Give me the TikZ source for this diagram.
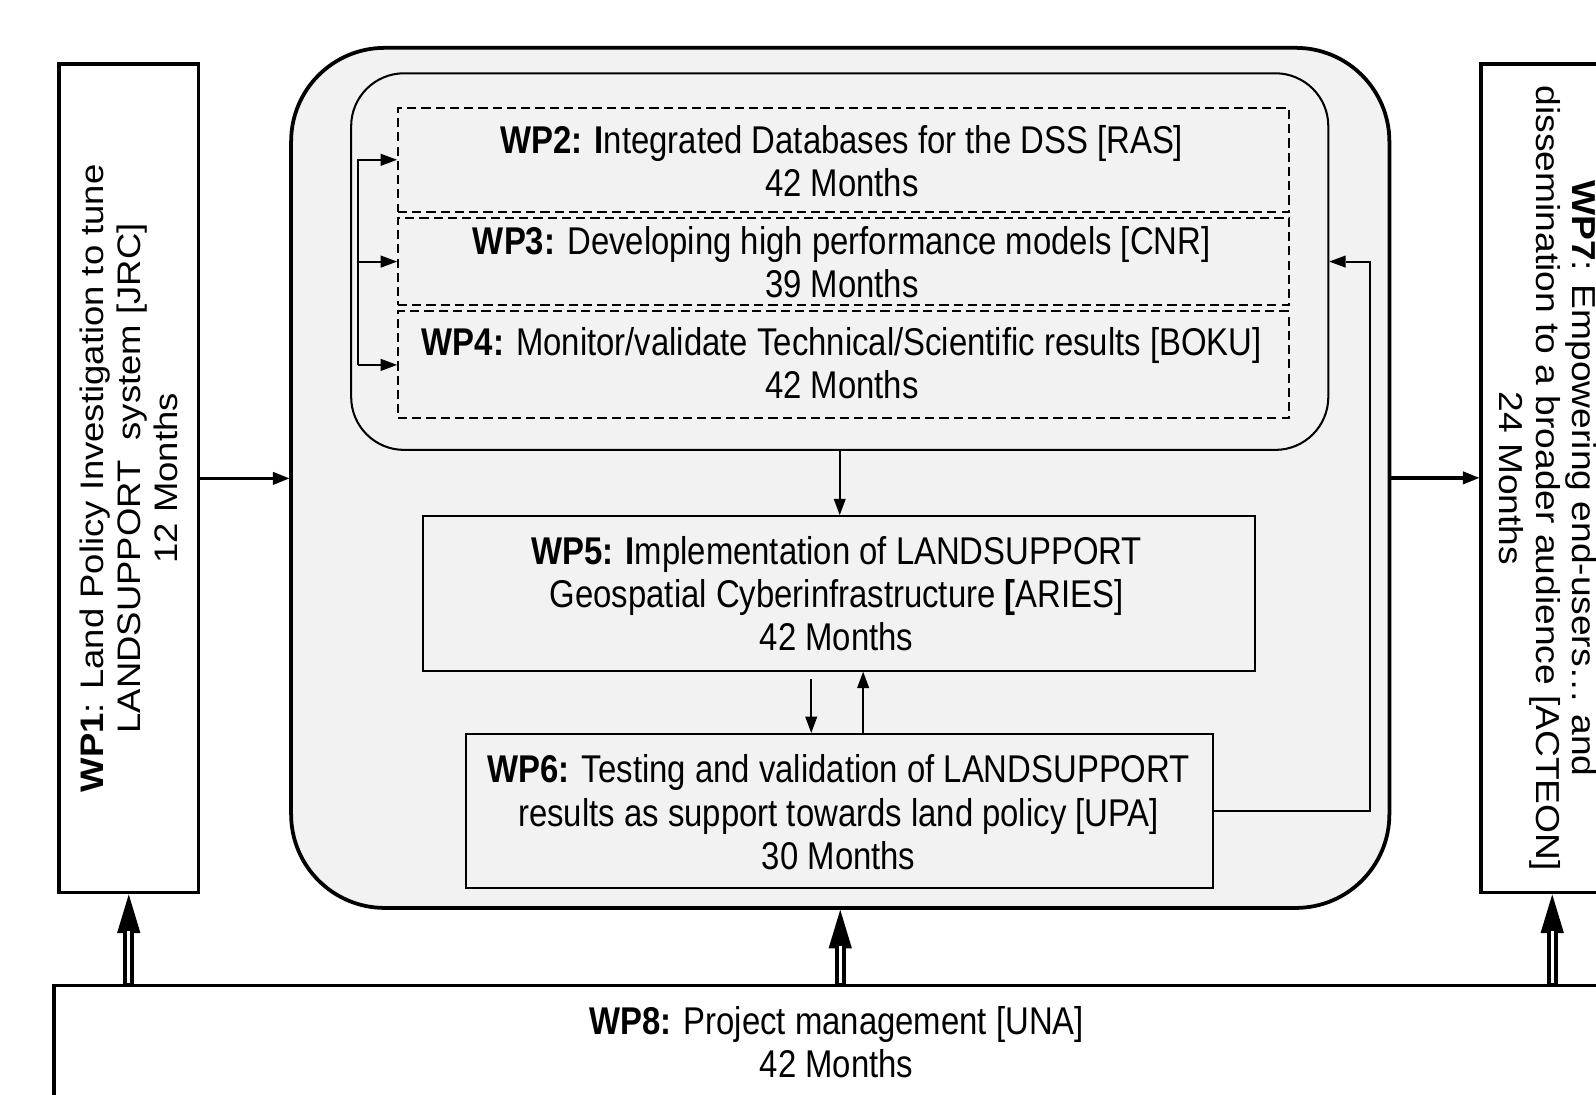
\documentclass[tikz,border=0pt]{standalone}
\usepackage{fontspec}
\setmainfont{Liberation Sans}
\newfontfamily\narrowfont[FakeStretch=0.85]{Liberation Sans}
\newfontfamily\sidefont[FakeStretch=1.12]{Liberation Sans}
\usetikzlibrary{arrows.meta,fit,calc}
\definecolor{panelgray}{HTML}{F2F2F2}
\tikzset{
  thickbox/.style={draw, line width=1.75pt, inner sep=0pt, fill=white},
  wpbox/.style={draw, line width=1pt, inner sep=0pt},
  dbox/.style={draw, dash pattern=on 4.5pt off 2.5pt, line width=0.95pt, inner sep=0pt},
  wptext/.style={align=center, inner sep=0pt, font=\narrowfont\fontsize{19}{21.2}\selectfont},
  sidetext/.style={align=center, inner sep=0pt},
  arr/.style={line width=0.9pt, -{Triangle[length=8pt,width=6pt,line width=0pt]}},
  thickarr/.style={line width=1.7pt, -{Triangle[length=8pt,width=6.5pt,line width=0pt]}},
  bigshaft/.style={line width=5.5pt, -{Triangle[length=19pt,width=11.5pt,line width=0pt]}},
  shaftgap/.style={white, line width=1.7pt, shorten >=18pt, shorten <=0.2pt},
}
\begin{document}
\begin{tikzpicture}[x=0.5pt, y=-0.5pt]
\useasboundingbox (0,0) rectangle (1568,1075);
\clip (0,0) rectangle (1568,1075);

% main panel holding WP2 to WP6
\node[draw, line width=1.85pt, inner sep=0pt, rounded corners=46pt, fill=panelgray,
      fit={(286,47) (1365,892)}] (core) {};

% side work packages
\node[thickbox, fit={(58,63) (195,877)}] (wp1) {};
\node[sidetext, rotate=90, font=\sidefont\fontsize{16}{18}\selectfont] (wp1t) at (wp1.center)
  {\textbf{WP1}: Land Policy Investigation to tune\\LANDSUPPORT\ \ system [JRC]\\12 Months};

\node[thickbox, fit={(1455,63) (1640,877)}] (wp7) {};
\node[sidetext, rotate=-90, font=\sidefont\fontsize{16.3}{18}\selectfont] (wp7t) at (1521,470)
  {\textbf{WP7}: Empowering end-users… and\\dissemination to a broader audience [ACTEON]\\24 Months};

\node[thickbox, fit={(53,968) (1640,1100)}] (wp8) {};
\node[wptext] (wp8t) at (822,1024)
  {\textbf{WP8:} Project management [UNA]\\42 Months};

% group of WP2 to WP4
\node[draw, line width=1pt, inner sep=0pt, rounded corners=26pt,
      fit={(345,72) (1305,442)}] (grp) {};
\node[dbox, fit={(391,106) (1266,208)}] (wp2) {};
\node[dbox, fit={(391,214) (1266,300)}] (wp3) {};
\node[dbox, fit={(391,306) (1266,411)}] (wp4) {};
\node[wptext] (wp2t) at (827,158)
  {\textbf{WP2: I}ntegrated Databases for the DSS [RAS]\\42 Months};
\node[wptext] (wp3t) at (827,257.5)
  {\textbf{WP3:} Developing high performance models [CNR]\\39 Months};
\node[wptext] (wp4t) at (827,356.5)
  {\textbf{WP4:} Monitor/validate Technical/Scientific results [BOKU]\\42 Months};

\node[wpbox, fit={(416,507) (1233,659)}] (wp5) {};
\node[wptext] (wp5t) at (822,583.5)
  {\textbf{WP5: I}mplementation of LANDSUPPORT\\Geospatial Cyberinfrastructure \textbf{[}ARIES]\\42 Months};
\node[wpbox, fit={(458,721) (1192,872)}] (wp6) {};
\node[wptext] (wp6t) at (824,798)
  {\textbf{WP6:} Testing and validation of LANDSUPPORT\\results as support towards land policy [UPA]\\30 Months};

% bracket feeding WP2, WP3, WP4
\coordinate (bk) at (352,0);
\draw[arr] (bk |- wp4.west) -- (bk |- wp2.west) -- (wp2.west);
\draw[arr] (bk |- wp3.west) -- (wp3.west);
\draw[arr] (bk |- wp4.west) -- (wp4.west);

% flow between the groups
\draw[arr] (grp.south) -- (grp.south |- wp5.north);
\coordinate (dn) at (797,667);
\coordinate (up) at (848,0);
\draw[arr] (dn) -- (dn |- wp6.north);
\draw[arr] (up |- wp6.north) -- (up |- wp5.south);
\coordinate (loop) at (1346,0);
\draw[arr] (wp6.east) -| (loop |- grp.east) -- (grp.east);

% links to the side packages
\draw[thickarr] (wp1.east) -- (wp1.east -| core.west);
\draw[thickarr] (core.east) -- (core.east -| wp7.west);

% management arrows from WP8
\coordinate (r7) at (1525,0);
\draw[bigshaft] (wp1.south |- wp8.north) -- (wp1.south);
\draw[shaftgap] (wp1.south |- wp8.north) -- (wp1.south);
\draw[bigshaft] (core.south |- wp8.north) -- (core.south);
\draw[shaftgap] (core.south |- wp8.north) -- (core.south);
\draw[bigshaft] (r7 |- wp8.north) -- (r7 |- wp7.south);
\draw[shaftgap] (r7 |- wp8.north) -- (r7 |- wp7.south);
\end{tikzpicture}
\end{document}
